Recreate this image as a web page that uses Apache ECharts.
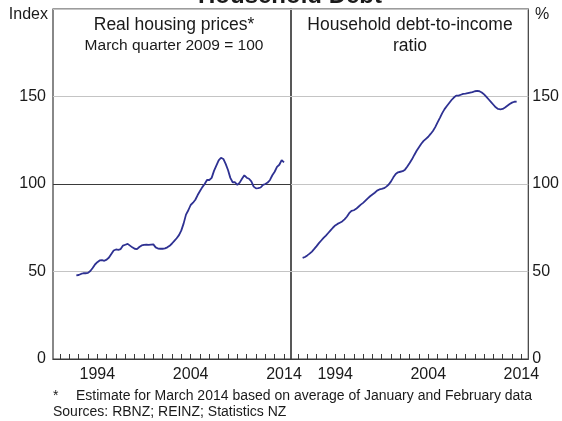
<!DOCTYPE html>
<html>
<head>
<meta charset="utf-8">
<script src="https://cdn.jsdelivr.net/npm/echarts@6/dist/echarts.min.js"></script>
<style>
  html, body { margin: 0; padding: 0; background: #fff; }
  #chart { width: 562px; height: 421px; }
</style>
</head>
<body>
<div id="chart"></div>
<script>
// quarterly series, first quarter given as decimal year
const housingStart = 1991.75;
const housingValues = [
  47.8, 48, 48.6, 49, 49, 49.2, 50.3, 52, 54, 55.3, 56.3, 56.5, 56.1, 56.8, 58, 60,
  62, 62.6, 62.4, 62.8, 64.8, 65.3, 65.8, 64.8, 63.8, 63, 62.8, 64, 64.9, 65.2, 65.3, 65.2,
  65.4, 65.5, 63.8, 63.1, 63, 63, 63.2, 63.8, 64.7, 66, 67.5, 69, 70.8, 73.5, 77.5, 82.5,
  85, 88, 89.3, 91, 93.7, 96, 98.2, 100, 102.3, 102.3, 103.5, 107.5, 110.5, 113.5, 115, 114.3,
  111.5, 108, 103.5, 101, 101, 99.5, 100.8, 103, 105, 103.6, 103, 101.5, 98.5, 97.5, 97.6, 98,
  99.5, 100, 100.8, 102.3, 105, 107, 109.8, 111, 113.7, 112.4
];

const debtStart = 1990.5;
const debtValues = [
  57.8, 58.3, 59.2, 60.2, 61.4, 62.9, 64.5, 66.2, 67.7, 69.2, 70.5, 72, 73.5, 75, 76.3, 77.2,
  77.9, 78.6, 79.8, 81.3, 83.3, 84.6, 85, 85.8, 87, 88.2, 89.2, 90.5, 91.8, 93, 94, 95,
  96.2, 96.9, 97.2, 97.6, 98.5, 99.7, 101.5, 103.8, 105.7, 106.7, 107, 107.3, 108.2, 110, 112, 114.1,
  116.6, 119, 121, 123, 124.6, 125.8, 127, 128.6, 130.3, 132.5, 135.2, 137.8, 140.5, 142.8, 144.6, 146.3,
  148, 149.4, 150.5, 150.5, 151, 151.5, 151.6, 151.9, 152.2, 152.5, 153, 153.2, 153, 152.3, 151.2, 149.8,
  148.3, 146.8, 145.3, 143.8, 142.9, 142.7, 142.9, 143.7, 144.7, 145.7, 146.5, 147, 147.1
];

const yearTicks = [];
for (let y = 1990; y <= 2014; y++) yearTicks.push(y);
const yearLabels = [1994, 2004, 2014];
const yTickLabels = [0, 50, 100, 150];

const toPairs = (start, vals) => vals.map((v, i) => [start + i * 0.25, v]);

const FONT = '"Liberation Sans", Arial, sans-serif';
const TXT = '#1a1a1a';
const FRAME = '#3a3a3a';
const GRIDC = '#c4c4c4';
const LINEC = '#2e3192';

const chart = echarts.init(document.getElementById('chart'), null, { renderer: 'canvas' });

const xAxisBase = {
  type: 'value',
  min: 1989.25,
  max: 2014.75,
  axisLine: { show: true, lineStyle: { color: FRAME, width: 1.2 } },
  axisTick: { show: true, inside: true, length: 5, customValues: yearTicks, lineStyle: { color: FRAME, width: 1 } },
  axisLabel: { customValues: yearLabels, formatter: v => String(v), fontFamily: FONT, fontSize: 16, color: TXT, margin: 8 },
  splitLine: { show: false }
};

const yAxisBase = {
  type: 'value',
  min: 0,
  max: 200,
  interval: 50,
  axisLine: { show: false },
  axisTick: { show: false },
  axisLabel: { customValues: yTickLabels, fontFamily: FONT, fontSize: 16, color: TXT }
};

chart.setOption({
  animation: false,
  grid: [
    { left: 53, top: 9, width: 238, height: 350, show: true, borderColor: FRAME, borderWidth: 1.2 },
    { left: 291, top: 9, width: 238, height: 350, show: true, borderColor: FRAME, borderWidth: 1.2 }
  ],
  xAxis: [
    Object.assign({ gridIndex: 0 }, xAxisBase),
    Object.assign({ gridIndex: 1 }, xAxisBase)
  ],
  yAxis: [
    Object.assign({}, yAxisBase, {
      gridIndex: 0, position: 'left',
      axisLabel: Object.assign({}, yAxisBase.axisLabel, { margin: 7 }),
      splitLine: { show: true, lineStyle: { color: [GRIDC, GRIDC, FRAME, GRIDC, GRIDC], width: 1.2 } }
    }),
    Object.assign({}, yAxisBase, {
      gridIndex: 1, position: 'right',
      axisLabel: Object.assign({}, yAxisBase.axisLabel, { margin: 4 }),
      splitLine: { show: true, lineStyle: { color: GRIDC, width: 1.2 } }
    })
  ],
  series: [
    {
      type: 'line', xAxisIndex: 0, yAxisIndex: 0,
      data: toPairs(housingStart, housingValues),
      showSymbol: false, lineStyle: { color: LINEC, width: 1.8 }
    },
    {
      type: 'line', xAxisIndex: 1, yAxisIndex: 1,
      data: toPairs(debtStart, debtValues),
      showSymbol: false, lineStyle: { color: LINEC, width: 1.8 }
    }
  ],
  graphic: [
    { type: 'text', x: 290, y: -4, style: { text: 'Household Debt', font: 'bold 24px ' + FONT, fill: TXT, align: 'center', verticalAlign: 'middle' } },
    { type: 'text', x: 48, y: 15, style: { text: 'Index', font: '16px ' + FONT, fill: TXT, align: 'right', verticalAlign: 'middle' } },
    { type: 'text', x: 535, y: 15, style: { text: '%', font: '16px ' + FONT, fill: TXT, align: 'left', verticalAlign: 'middle' } },
    { type: 'text', x: 174, y: 25, style: { text: 'Real housing prices*', font: '17.5px ' + FONT, fill: TXT, align: 'center', verticalAlign: 'middle' } },
    { type: 'text', x: 174, y: 46, style: { text: 'March quarter 2009 = 100', font: '15.5px ' + FONT, fill: TXT, align: 'center', verticalAlign: 'middle' } },
    { type: 'text', x: 410, y: 25, style: { text: 'Household debt-to-income', font: '17.5px ' + FONT, fill: TXT, align: 'center', verticalAlign: 'middle' } },
    { type: 'text', x: 410, y: 46, style: { text: 'ratio', font: '17.5px ' + FONT, fill: TXT, align: 'center', verticalAlign: 'middle' } },
    { type: 'text', x: 53, y: 396, style: { text: '*', font: '14px ' + FONT, fill: TXT, align: 'left', verticalAlign: 'middle' } },
    { type: 'text', x: 76, y: 396, style: { text: 'Estimate for March 2014 based on average of January and February data', font: '14px ' + FONT, fill: TXT, align: 'left', verticalAlign: 'middle' } },
    { type: 'text', x: 53, y: 412, style: { text: 'Sources: RBNZ; REINZ; Statistics NZ', font: '14px ' + FONT, fill: TXT, align: 'left', verticalAlign: 'middle' } }
  ]
});
</script>
</body>
</html>
